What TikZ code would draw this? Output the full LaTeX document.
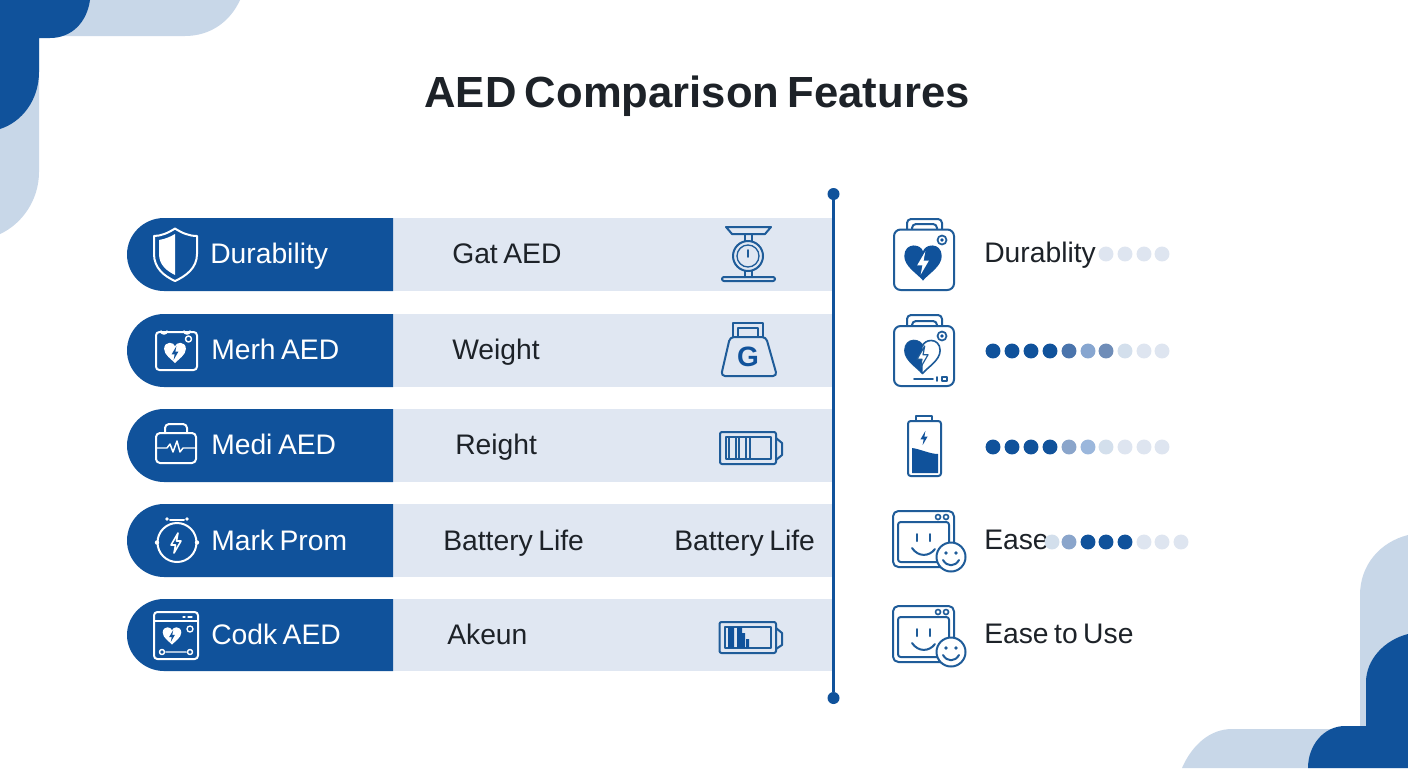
\documentclass[tikz,border=0pt]{standalone}
\usepackage{fontspec}
\setmainfont[WordSpace=0.7]{Liberation Sans}
\definecolor{navy}{HTML}{10529B}
\definecolor{cornerlight}{HTML}{C8D7E8}
\definecolor{band}{HTML}{E0E7F2}
\definecolor{ink}{HTML}{1D2228}
\definecolor{iconblue}{HTML}{1F5C99}
\definecolor{dotlight}{HTML}{DEE5F0}
\definecolor{dotsoft}{HTML}{D3DFEC}
\definecolor{dotmida}{HTML}{4A74AC}
\definecolor{dotmidb}{HTML}{87A6D0}
\definecolor{dotmidc}{HTML}{6F8DB8}
\definecolor{dotmidd}{HTML}{8AA5CB}
\definecolor{dotmide}{HTML}{9BB7DC}
\tikzset{
  pill/.style={fill=navy,draw=none},
  bandrow/.style={fill=band,draw=none},
  pilltext/.style={anchor=base west,text=white,font=\fontsize{21.2}{24}\selectfont,inner sep=0pt},
  bandtext/.style={anchor=base west,text=ink,font=\fontsize{21.2}{24}\selectfont,inner sep=0pt},
  wic/.style={draw=white,line width=1.5pt,line join=round,line cap=round},
  bic/.style={draw=iconblue,line width=1.5pt,line join=round,line cap=round},
  rdot/.style={circle,minimum size=11.2pt,inner sep=0pt,draw=none},
  enddot/.style={circle,fill=navy,minimum size=9pt,inner sep=0pt,draw=none},
}
\newcommand{\heartshape}{(0,15) .. controls (-5,9) and (-16,3) .. (-16,-6) .. controls (-16,-12) and (-12,-15) .. (-8,-15) .. controls (-4,-15) and (-1,-13) .. (0,-10) .. controls (1,-13) and (4,-15) .. (8,-15) .. controls (12,-15) and (16,-12) .. (16,-6) .. controls (16,3) and (5,9) .. (0,15) -- cycle}
\newcommand{\boltshape}{(2,-10) -- (-5,2) -- (-0.5,2) -- (-2,10) -- (5,-2) -- (0.5,-2) -- cycle}
\newcommand{\rowdots}[3]{\foreach \px/\pc [count=\pn] in {#3}{\node[rdot,fill=\pc] (#1-\pn) at (\px,#2) {};}}
\newcommand{\screenface}[1]{%
  \begin{scope}[yshift=#1*-0.75pt]
    \draw[bic,fill=white,rounded corners=4pt] (893,511) rectangle (954,567);
    \draw[bic,rounded corners=2pt] (898,522) rectangle (949,562);
    \draw[bic,line width=1.2pt] (938,517) circle (2.5);
    \draw[bic,line width=1.2pt] (946,517) circle (2.5);
    \draw[bic] (917,534) -- (917,541);
    \draw[bic] (930,534) -- (930,541);
    \draw[bic] (912,548) .. controls (918,557) and (929,557) .. (935,549);
    \draw[bic,fill=white] (951,557) circle (14.5);
    \draw[fill=iconblue,draw=none] (946,553) circle (1.9) (956,553) circle (1.9);
    \draw[bic] (943,560) .. controls (947,567) and (955,567) .. (959,560);
  \end{scope}}
\begin{document}
\begin{tikzpicture}[x=0.75pt,y=-0.75pt]
\useasboundingbox (0,0) rectangle (1408,768);
\fill[white] (0,0) rectangle (1408,768);
% corners
\fill[cornerlight] (0,0) -- (240,0) .. controls (230,22) and (210,36) .. (185,36) -- (39,36) -- (39,172) .. controls (39,200) and (22,224) .. (0,234) -- cycle;
\fill[navy] (0,0) -- (90,0) .. controls (87,22) and (72,38) .. (50,38) -- (39,38) -- (39,72) .. controls (39,100) and (22,122) .. (0,129) -- cycle;
\fill[cornerlight] (1408,535) .. controls (1380,542) and (1360,565) .. (1360,595) -- (1360,729) -- (1232,729) .. controls (1210,729) and (1192,745) .. (1182,768) -- (1408,768) -- cycle;
\fill[navy] (1408,634) .. controls (1384,640) and (1366,660) .. (1366,682) -- (1366,726) -- (1345,726) .. controls (1324,726) and (1308,745) .. (1308,768) -- (1408,768) -- cycle;
% title
\node[anchor=base,text=ink,font=\bfseries\fontsize{32.7}{36}\selectfont,inner sep=0pt] (title) at (697,107) {AED Comparison Features};
% rows
\foreach \t/\b in {218/291,314/387,409/482,504/577,599/671}{
  \pgfmathsetmacro{\rr}{(\b-\t)/2}
  \fill[bandrow] (393,\t) rectangle (833,\b);
  \fill[pill] (393,\t) -- (164,\t) .. controls ({164-0.5523*\rr},\t) and (127,{\t+\rr-0.5523*\rr}) .. (127,{\t+\rr}) .. controls (127,{\t+\rr+0.5523*\rr}) and ({164-0.5523*\rr},\b) .. (164,\b) -- (393,\b) -- cycle;
}
% axis
\node[enddot] (axistop) at (833.5,194) {};
\node[enddot] (axisbot) at (833.5,698) {};
\draw[draw=navy,line width=2.2pt] (axistop) -- (axisbot);
% pill texts
\node[pilltext] (p1) at (210,263) {Durability};
\node[pilltext] (p2) at (211,359) {Merh AED};
\node[pilltext] (p3) at (211,454) {Medi AED};
\node[pilltext] (p4) at (211,550) {Mark Prom};
\node[pilltext] (p5) at (211,644) {Codk AED};
% band texts
\node[bandtext] (b1) at (452,263) {Gat AED};
\node[bandtext] (b2) at (452,359) {Weight};
\node[bandtext] (b3) at (455,454) {Reight};
\node[bandtext] (b4) at (443,550) {Battery Life};
\node[bandtext] (b4b) at (674,550) {Battery Life};
\node[bandtext] (b5) at (447,644) {Akeun};
% right texts
\node[bandtext] (r1) at (984,262) {Durablity};
\node[bandtext] (r4) at (984,549) {Ease};
\node[bandtext] (r5) at (984,643) {Ease to Use};
% dots
\rowdots{da}{254}{1106/dotlight,1125/dotlight,1144/dotlight,1162/dotlight}
\rowdots{db}{351}{993/navy,1012/navy,1031/navy,1050/navy,1069/dotmida,1088/dotmidb,1106/dotmidc,1125/dotsoft,1144/dotlight,1162/dotlight}
\rowdots{dc}{447}{993/navy,1012/navy,1031/navy,1050/navy,1069/dotmidd,1088/dotmide,1106/dotsoft,1125/dotlight,1144/dotlight,1162/dotlight}
\rowdots{dd}{542}{1052/dotsoft,1069/dotmidd,1088/navy,1106/navy,1125/navy,1144/dotlight,1162/dotlight,1181/dotlight}
% --- pill icons ---
% shield
\draw[wic] (175,228.5) .. controls (168,233) and (161,236) .. (154,236) -- (154,254) .. controls (154,268) and (164,276) .. (175,281) .. controls (186,276) and (197,268) .. (197,254) -- (197,236) .. controls (189,236) and (182,233) .. (175,228.5) -- cycle;
\fill[white] (175,234) .. controls (170,237) and (165,239) .. (159,240) -- (159,254) .. controls (159,265) and (167,271) .. (175,275) -- cycle;
% merh icon
\draw[wic,rounded corners=2.5pt] (156,332) rectangle (197,370);
\draw[wic,line width=1.2pt] (161,331) arc[start angle=180,end angle=0,radius=3];
\draw[wic,line width=1.2pt] (184,331) arc[start angle=180,end angle=0,radius=3];
\draw[wic,line width=1.1pt] (188.5,339) circle (3);
\begin{scope}[shift={(175,353)},scale=0.68]
  \fill[white] \heartshape;
  \fill[navy] \boltshape;
\end{scope}
% briefcase
\draw[wic,rounded corners=3pt] (156,433) rectangle (196,463);
\draw[wic,rounded corners=3pt] (165,433) -- (165,424) -- (187,424) -- (187,433);
\draw[wic,line width=1.1pt] (156,448) -- (167,448) -- (170,444) -- (173,452) -- (177,441) -- (180,452) -- (183,448) -- (196,448);
% stopwatch
\draw[wic] (177,542.5) circle (19.5);
\draw[wic] (170,520) -- (184,520);
\fill[white] (167,519) circle (1.8) (187,519) circle (1.8) (157,542.5) circle (2.2) (197,542.5) circle (2.2);
\begin{scope}[shift={(176,543)}]
  \draw[wic,line width=1.2pt] \boltshape;
\end{scope}
% codk window
\draw[wic,rounded corners=2.5pt] (154,612) rectangle (198,659);
\draw[wic,line width=1.1pt] (154,621) -- (198,621);
\draw[wic,line width=1pt] (183,617) -- (185,617) (188,617) -- (192,617);
\begin{scope}[shift={(172,636)},scale=0.58]
  \fill[white] \heartshape;
  \fill[navy] \boltshape;
\end{scope}
\draw[wic,line width=1pt] (190,629) circle (3);
\draw[wic,line width=1.1pt] (162,652) circle (2.5) (190,652) circle (2.5) (166,652) -- (186,652);
% --- band icons ---
% scale
\draw[bic,fill=band] (726,227) -- (771,227) -- (765,234) -- (732,234) -- cycle;
\draw[bic] (745,234) -- (745,241) (752,234) -- (752,241);
\draw[bic] (745,271) -- (745,277) (752,271) -- (752,277);
\draw[bic] (748,256) circle (15);
\draw[bic,line width=1pt] (748,256) circle (11);
\draw[bic,line width=1.4pt] (748,250) -- (748,257);
\draw[bic,rounded corners=1.5pt] (722,277) rectangle (775,281);
% weight
\draw[bic] (733,337) -- (733,323) -- (763,323) -- (763,337);
\draw[bic,line width=1.2pt] (738,337) -- (738,328) -- (758,328) -- (758,337);
\draw[bic,rounded corners=3pt] (730,337) -- (766,337) -- (777,376) -- (721,376) -- cycle;
\node[text=navy,font=\bfseries\fontsize{21}{23}\selectfont,inner sep=0pt] (gmark) at (748,357) {G};
% battery row 3
\draw[bic,rounded corners=1.5pt] (720,432) rectangle (776,464);
\draw[bic] (776,438) -- (782,443) -- (782,455) -- (776,460);
\draw[bic,line width=1.2pt] (726,437) rectangle (771,459);
\draw[bic,line width=1.2pt] (729,437) -- (729,459) (736,437) -- (736,459) (739,437) -- (739,459) (746,437) -- (746,459) (750,437) -- (750,459);
% battery row 5
\draw[bic,rounded corners=1.5pt] (719.5,622) rectangle (776,653);
\draw[bic] (776,628) -- (782,633) -- (782,645) -- (776,649);
\draw[bic,line width=1.2pt] (725,627) rectangle (771,648);
\fill[navy] (728,627) rectangle (734,648) (737,627) rectangle (742,648) (742,633) rectangle (745,648) (746,639) rectangle (749,648);
% --- right icons ---
% AED 1
\draw[bic,rounded corners=3pt] (907,229) -- (907,219) -- (942,219) -- (942,229);
\draw[bic,rounded corners=3pt] (912,229) -- (912,224) -- (937,224) -- (937,229);
\draw[bic,rounded corners=5pt] (894,229.5) rectangle (954,290);
\draw[bic,line width=1.3pt] (942,240) circle (4.5);
\fill[navy] (942,240) circle (1.8);
\begin{scope}[shift={(923,263)},scale=1.17]
  \fill[navy] \heartshape;
  \fill[white] \boltshape;
\end{scope}
% AED 2
\draw[bic,rounded corners=3pt] (907,326) -- (907,315) -- (942,315) -- (942,326);
\draw[bic,rounded corners=3pt] (912,326) -- (912,321) -- (937,321) -- (937,326);
\draw[bic,rounded corners=5pt] (894,326) rectangle (954,386);
\draw[bic,line width=1.3pt] (942,336) circle (4.5);
\fill[navy] (942,336) circle (1.8);
\begin{scope}[shift={(922.5,357)},scale=1.1]
  \draw[bic,line width=1.2pt] \heartshape;
  \fill[navy] (0,15) .. controls (-5,9) and (-16,3) .. (-16,-6) .. controls (-16,-12) and (-12,-15) .. (-8,-15) .. controls (-4,-15) and (-1,-13) .. (0,-10) -- cycle;
  \fill[white] \boltshape;
  \draw[bic,line width=0.9pt] \boltshape;
\end{scope}
\draw[bic,line width=1.2pt] (914,379) -- (933,379) (937,377) -- (937,381);
\draw[bic,line width=1pt] (942,377) rectangle (947,381);
% battery tall
\draw[bic,line width=1.3pt] (916,421) -- (916,416) -- (932,416) -- (932,421);
\draw[bic,rounded corners=2pt] (908,421) rectangle (941,476);
\fill[navy] (912,448) .. controls (920,449) and (930,454) .. (938,454) -- (938,473) -- (912,473) -- cycle;
\begin{scope}[shift={(924,438)},scale=0.72]
  \fill[navy] \boltshape;
\end{scope}
% screen faces
\screenface{0}
\screenface{95}
\end{tikzpicture}
\end{document}
